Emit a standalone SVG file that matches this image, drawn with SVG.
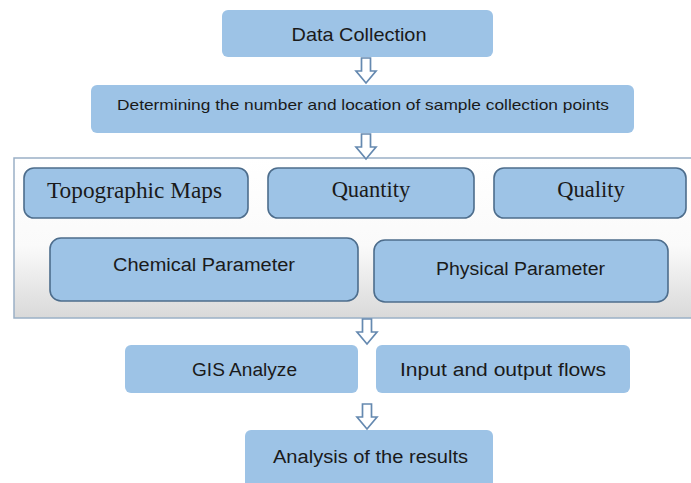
<svg xmlns="http://www.w3.org/2000/svg" width="691" height="483" viewBox="0 0 691 483">
<defs>
<linearGradient id="panel" x1="0" y1="0" x2="0" y2="1">
<stop offset="0" stop-color="#ffffff"/>
<stop offset="0.55" stop-color="#fafafa"/>
<stop offset="1" stop-color="#d9d9d9"/>
</linearGradient>
<path id="arr" d="M-4.5,0 H4.5 V13 H10 L0,25 L-10,13 H-4.5 Z"/>
</defs>
<style>
.flat{fill:#9dc3e6;}
.inner{fill:#9dc3e6;stroke:#4d6d8c;stroke-width:1.6;}
.sans{font-family:"Liberation Sans",Arial,sans-serif;fill:#1a1a1a;text-anchor:middle;}
.serif{font-family:"Liberation Serif","Times New Roman",serif;fill:#1a1a1a;text-anchor:middle;font-size:22.5px;}
.arrow{fill:#ffffff;stroke:#6589b0;stroke-width:1.7;stroke-linejoin:miter;}
.panel{fill:url(#panel);stroke:#9ab0c6;stroke-width:1.5;}
</style>
<g id="container">
<rect class="panel" x="14" y="158" width="690" height="160"/>
</g>
<g id="n-data-collection">
<rect class="flat" x="222" y="10" width="271" height="47" rx="6"/>
<text class="sans" x="359" y="41" font-size="19" textLength="135" lengthAdjust="spacingAndGlyphs">Data Collection</text>
</g>
<g id="n-determining">
<rect class="flat" x="91" y="85" width="543" height="48" rx="6"/>
<text class="sans" x="363" y="110" font-size="15" textLength="492" lengthAdjust="spacingAndGlyphs">Determining the number and location of sample collection points</text>
</g>
<g id="n-topographic">
<rect class="inner" x="24" y="168" width="224" height="50" rx="10"/>
<text class="serif" x="134.5" y="198" textLength="175" lengthAdjust="spacingAndGlyphs">Topographic Maps</text>
</g>
<g id="n-quantity">
<rect class="inner" x="268" y="168" width="206" height="50" rx="10"/>
<text class="serif" x="371" y="197">Quantity</text>
</g>
<g id="n-quality">
<rect class="inner" x="494" y="168" width="192" height="50" rx="10"/>
<text class="serif" x="591" y="197">Quality</text>
</g>
<g id="n-chemical">
<rect class="inner" x="50" y="238" width="308" height="63" rx="11"/>
<text class="sans" x="204" y="271" font-size="18" textLength="182" lengthAdjust="spacingAndGlyphs">Chemical Parameter</text>
</g>
<g id="n-physical">
<rect class="inner" x="374" y="240" width="294" height="62" rx="11"/>
<text class="sans" x="520.5" y="275" font-size="18" textLength="169" lengthAdjust="spacingAndGlyphs">Physical Parameter</text>
</g>
<g id="n-gis">
<rect class="flat" x="125" y="345" width="233" height="48" rx="6"/>
<text class="sans" x="244.5" y="376" font-size="18" textLength="105" lengthAdjust="spacingAndGlyphs">GIS Analyze</text>
</g>
<g id="n-io">
<rect class="flat" x="376" y="345" width="254" height="48" rx="6"/>
<text class="sans" x="503" y="376" font-size="18" textLength="206" lengthAdjust="spacingAndGlyphs">Input and output flows</text>
</g>
<g id="n-analysis">
<rect class="flat" x="245" y="430" width="248" height="60" rx="6"/>
<text class="sans" x="370.5" y="463" font-size="18" textLength="195" lengthAdjust="spacingAndGlyphs">Analysis of the results</text>
</g>
<g id="connectors">
<use href="#arr" class="arrow" x="366" y="58"/>
<use href="#arr" class="arrow" x="366" y="134"/>
<use href="#arr" class="arrow" x="367" y="319"/>
<use href="#arr" class="arrow" x="367" y="404"/>
</g>
</svg>
